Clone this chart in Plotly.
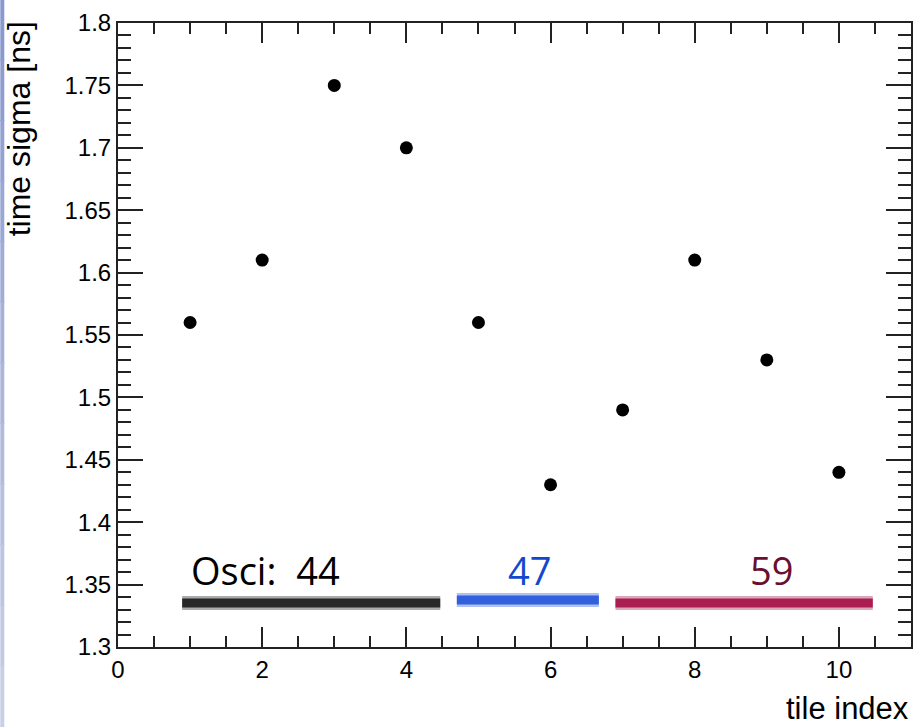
import plotly.graph_objects as go

# ---- data ----
tile_index = [1, 2, 3, 4, 5, 6, 7, 8, 9, 10]
time_sigma = [1.56, 1.61, 1.75, 1.70, 1.56, 1.43, 1.49, 1.61, 1.53, 1.44]

x_tick_vals = [0, 2, 4, 6, 8, 10]
x_tick_text = ["0", "2", "4", "6", "8", "10"]
y_tick_vals = [1.3, 1.35, 1.4, 1.45, 1.5, 1.55, 1.6, 1.65, 1.7, 1.75, 1.8]
y_tick_text = ["1.3", "1.35", "1.4", "1.45", "1.5", "1.55", "1.6", "1.65", "1.7", "1.75", "1.8"]

# oscilloscope groups: label, x-start, x-end, band level, label position
osci_labels = ["Osci:  44", "47", "59"]
osci_x_start = [0.89, 4.70, 6.90]
osci_x_end = [4.47, 6.67, 10.47]
osci_band_y = [1.3353, 1.3377, 1.3353]
osci_label_x = [2.05, 5.71, 9.07]
osci_label_y = [1.362, 1.362, 1.362]
osci_text_colors = ["#000000", "#1248cc", "#6a0f30"]
osci_band_colors = ["#111111", "#1d4fd8", "#a0063e"]

fig = go.Figure()

# noisy-looking bands: soft halo + dense core
for xs, xe, yb, col in zip(osci_x_start, osci_x_end, osci_band_y, osci_band_colors):
    fig.add_trace(go.Scatter(x=[xs, xe], y=[yb, yb], mode="lines",
                             line=dict(color=col, width=14), opacity=0.35,
                             hoverinfo="skip", showlegend=False))
    fig.add_trace(go.Scatter(x=[xs, xe], y=[yb, yb], mode="lines",
                             line=dict(color=col, width=9), opacity=0.85,
                             hoverinfo="skip", showlegend=False))

fig.add_trace(go.Scatter(x=tile_index, y=time_sigma, mode="markers",
                         marker=dict(color="black", size=13, symbol="circle"),
                         showlegend=False))

for txt, lx, ly, c in zip(osci_labels, osci_label_x, osci_label_y, osci_text_colors):
    fig.add_annotation(x=lx, y=ly, xref="x", yref="y", text=txt, showarrow=False,
                       font=dict(family="Open Sans", size=38, color=c),
                       xanchor="center", yanchor="middle")

# axis titles
fig.add_annotation(x=1.0, y=-0.098, xref="paper", yref="paper", text="tile index",
                   showarrow=False, xanchor="right", yanchor="middle",
                   font=dict(family="Liberation Sans", size=31, color="black"))
fig.add_annotation(x=-0.1245, y=0.83, xref="paper", yref="paper", text="time sigma [ns]",
                   showarrow=False, textangle=-90, xanchor="center", yanchor="middle",
                   font=dict(family="Liberation Sans", size=32, color="black"))

# left slide-edge strip (gradient approximation)
n_seg = 12
top_rgb = (136, 153, 206)
bot_rgb = (200, 207, 230)
for i in range(n_seg):
    t = i / (n_seg - 1)
    r = int(top_rgb[0] + (bot_rgb[0] - top_rgb[0]) * t)
    g = int(top_rgb[1] + (bot_rgb[1] - top_rgb[1]) * t)
    b = int(top_rgb[2] + (bot_rgb[2] - top_rgb[2]) * t)
    y1 = 1 + 23 / 624 - i * (727 / 624) / n_seg
    y0 = y1 - (727 / 624) / n_seg
    fig.add_shape(type="rect", xref="paper", yref="paper",
                  x0=-118 / 795, x1=-114 / 795, y0=y0, y1=y1 + 0.002,
                  fillcolor=f"rgb({r},{g},{b})", line=dict(width=0), layer="below")

axis_col = "#222222"
fig.update_layout(
    width=916, height=727,
    margin=dict(l=118, r=3, t=23, b=80),
    paper_bgcolor="white", plot_bgcolor="white",
    font=dict(family="Liberation Sans", color="black"),
    xaxis=dict(range=[0, 11], showgrid=False, zeroline=False,
               showline=True, linecolor=axis_col, linewidth=2, mirror="ticks",
               ticks="inside", ticklen=20, tickwidth=2, tickcolor=axis_col,
               tickvals=x_tick_vals, ticktext=x_tick_text,
               tickfont=dict(family="Liberation Sans", size=24, color="black"),
               minor=dict(ticks="inside", dtick=0.5, tick0=0, ticklen=11,
                          tickwidth=2, tickcolor=axis_col, showgrid=False)),
    yaxis=dict(range=[1.3, 1.8], showgrid=False, zeroline=False,
               showline=True, linecolor=axis_col, linewidth=2, mirror="ticks",
               ticks="inside", ticklen=25, tickwidth=2, tickcolor=axis_col,
               tickvals=y_tick_vals, ticktext=y_tick_text,
               tickfont=dict(family="Liberation Sans", size=24, color="black"),
               minor=dict(ticks="inside", dtick=0.01, tick0=1.3, ticklen=13,
                          tickwidth=2, tickcolor=axis_col, showgrid=False)),
)

fig.write_html("out.html", config={"displayModeBar": False},
               post_script="document.body.style.margin='0';document.body.style.overflow='hidden';")
